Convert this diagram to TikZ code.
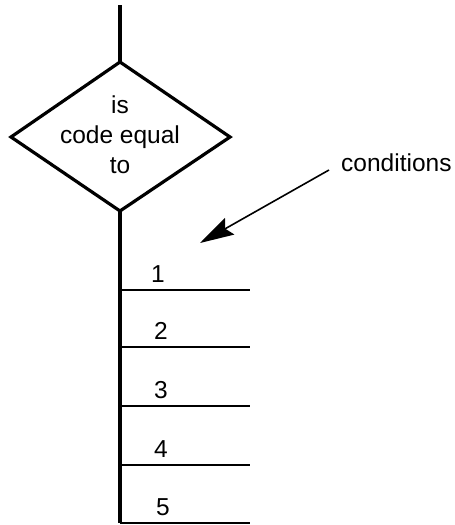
\documentclass[tikz,border=0pt]{standalone}
\usepackage{fontspec}
\setmainfont{Liberation Sans}
\usetikzlibrary{arrows.meta}
\begin{document}
\begin{tikzpicture}[x=1pt,y=-1pt,
  flow/.style={line width=3.2pt,line join=miter},
  branch/.style={line width=2.8pt},
  label/.style={font=\fontsize{24.5}{30}\selectfont,inner sep=0pt},
  pointer/.style={line width=1.6pt,-{Stealth[length=34pt,width=19pt,inset=5pt]}}]
\useasboundingbox (0,0) rectangle (455,525);
% decision diamond
\coordinate (in) at (120,5);
\coordinate (dt) at (120,62);
\coordinate (dl) at (11,137);
\coordinate (dr) at (230,137);
\coordinate (db) at (120,211);
\draw[flow] (dt) -- (dr) -- (db) -- (dl) -- cycle;
\node[label,align=center] (q) at (120,135) {is\\code equal\\to};
\draw[flow] (in) -- (dt);
% trunk with the case branches
\coordinate (end) at (120,523);
\draw[flow] (db) -- (end);
\foreach \i/\y/\x in {1/290/158,2/347/161,3/406/161,4/465/161,5/523/163}{
  \coordinate (b\i) at (120,\y);
  \coordinate (e\i) at (250,\y);
  \draw[branch] (b\i) -- (e\i);
  \node[label] (n\i) at (\x,\y-16) {\i};
}
% annotation
\node[label,anchor=west] (cond) at (341,163) {conditions};
\coordinate (from) at (329,170);
\coordinate (tip) at (200,243);
\draw[pointer] (from) -- (tip);
\end{tikzpicture}
\end{document}
